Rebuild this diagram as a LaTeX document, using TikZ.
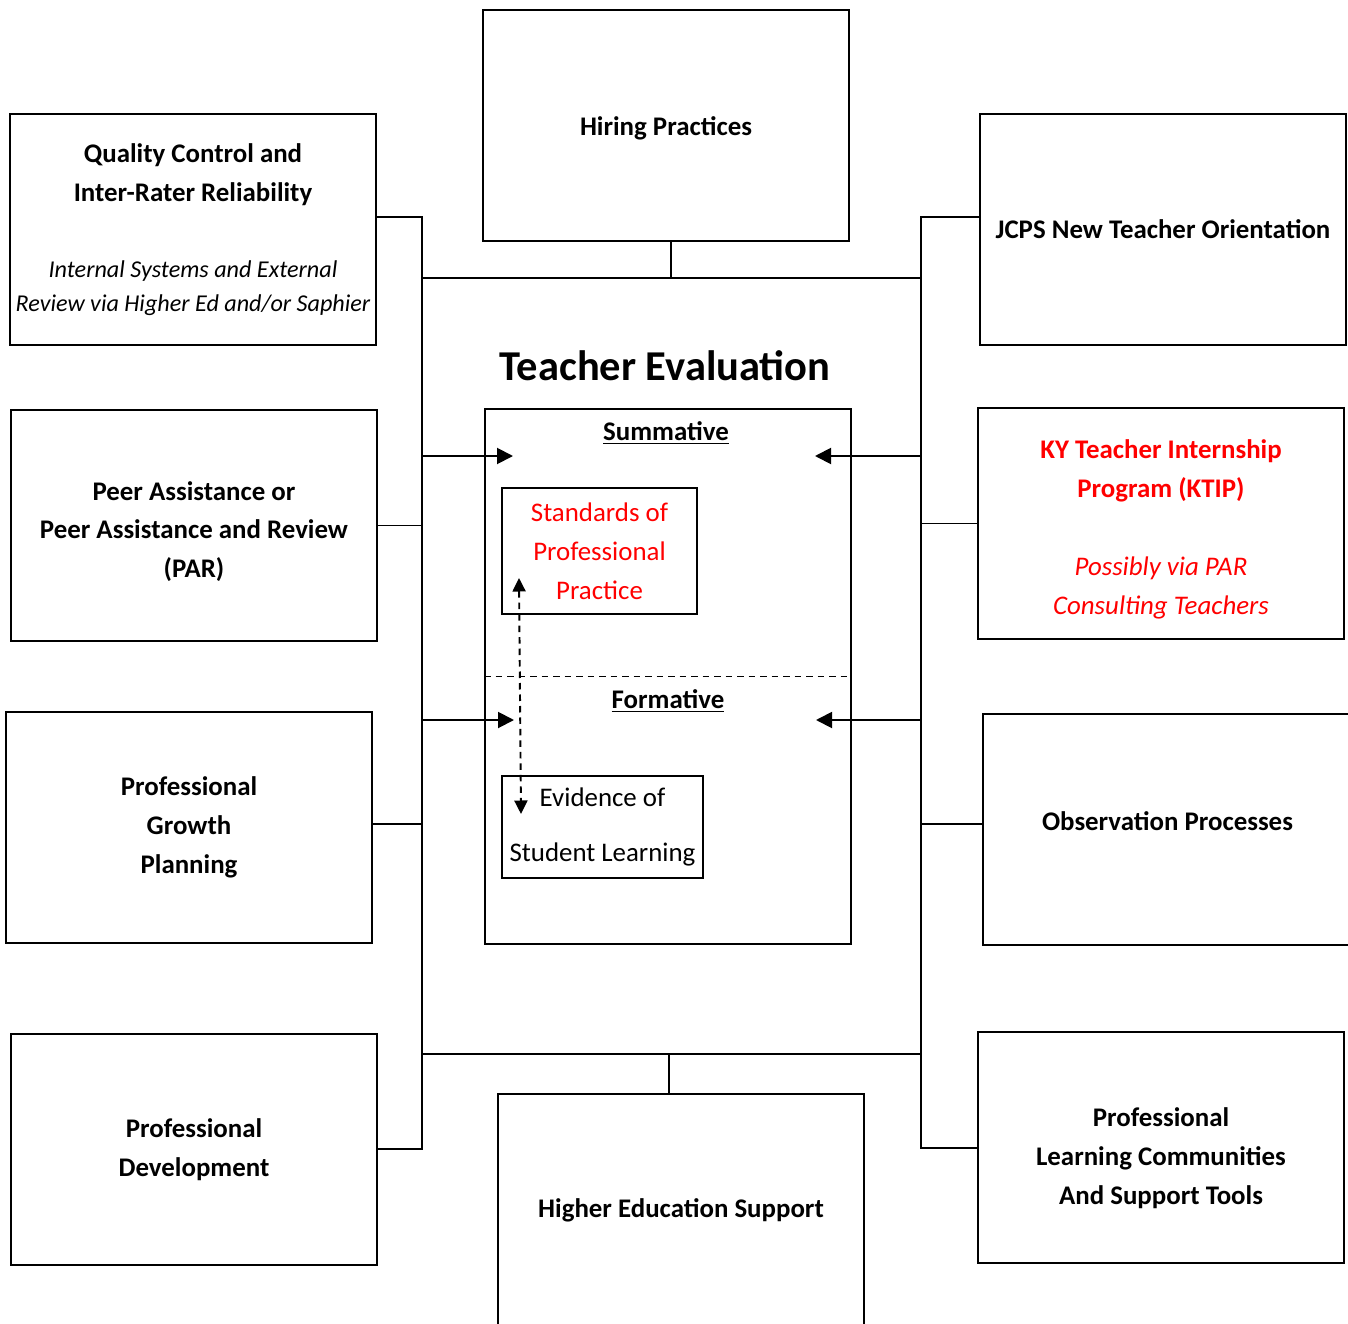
\documentclass[tikz,border=0pt]{standalone}
\usepackage{fontspec}
\setmainfont{Carlito}
\usetikzlibrary{arrows.meta}

\newcommand{\subfont}{\mdseries\itshape\fontsize{13.75}{19.3}\selectfont}
\newcommand{\pushdown}[2]{\raisebox{0pt}[\dimexpr\height+#1\relax]{#2}}
\newcommand{\pushup}[2]{\raisebox{0pt}[\height][\dimexpr\depth+#1\relax]{#2}}

\begin{document}
\begin{tikzpicture}[x=0.02cm, y=-0.02cm,
    box/.style={draw, line width=1.1pt, minimum width=7.32cm, minimum height=4.62cm,
        inner sep=0pt, align=center, font=\fontsize{15.3}{22.1}\selectfont\bfseries},
    smallbox/.style={draw, line width=1.1pt, inner sep=0pt, align=center,
        font=\fontsize{15.3}{22.1}\selectfont},
    link/.style={line width=1.1pt},
    arr/.style={line width=1.1pt, -{Triangle[length=0.32cm, width=0.32cm]}},
    darr/.style={line width=1.1pt, dash pattern=on 0.13cm off 0.1cm,
        {Triangle[length=0.27cm, width=0.26cm]}-{Triangle[length=0.27cm, width=0.26cm]}}]
    \useasboundingbox (0,0) rectangle (1348,1324);

    % Outer boxes
    \node[box] (hiring) at (666,125.5) {\pushdown{3.4pt}{Hiring Practices}};
    \node[box] (qc) at (193,229.5) {Quality Control and\\Inter-Rater Reliability\\[21pt]
        {\subfont Internal Systems and External}\\[-2.8pt]
        {\subfont Review via Higher Ed and/or Saphier}};
    \node[box] (jcps) at (1163,229.5) {JCPS New Teacher Orientation};
    \node[box] (peer) at (194,525.5) {\pushdown{6.8pt}{Peer Assistance or}\\Peer Assistance and Review\\(PAR)};
    \node[box, text=red] (ktip) at (1161,523.5) {\pushdown{6.8pt}{KY Teacher Internship}\\Program (KTIP)\\[22.1pt]
        {\mdseries\itshape Possibly via PAR}\\{\mdseries\itshape Consulting Teachers}};
    \node[box] (pgp) at (189,827.5) {Professional\\Growth\\Planning};
    \node[box, minimum width=7.37cm] (obs) at (1167.5,829.5) {\pushup{9pt}{Observation Processes}};
    \node[box] (pd) at (194,1149.5) {Professional\\Development};
    \node[box, minimum height=4.66cm] (hes) at (681,1210.5) {Higher Education Support};
    \node[box] (plc) at (1161,1147.5) {\pushdown{12.5pt}{Professional}\\Learning Communities\\And Support Tools};

    % Teacher evaluation
    \node[font=\fontsize{24.2}{28}\selectfont\bfseries] (title) at (665,366) {Teacher Evaluation};
    \node[draw, line width=1.1pt, minimum width=7.32cm, minimum height=10.7cm] (eval) at (668,676.5) {};
    \draw[line width=1.1pt, dash pattern=on 0.13cm off 0.1cm] (eval.west) -- (eval.east);
    \node[font=\fontsize{15.3}{22.1}\selectfont\bfseries] (summ) at (666,433) {\underline{Summative}};
    \node[font=\fontsize{15.3}{22.1}\selectfont\bfseries] (form) at (668,701) {\underline{Formative}};
    \node[smallbox, text=red, minimum width=3.9cm, minimum height=2.52cm] (std) at (599.5,551)
        {Standards of\\Professional\\Practice};
    \node[smallbox, minimum width=4.02cm, minimum height=2.04cm] (evid) at (602.5,827)
        {Evidence of\\[9.1pt]Student Learning};

    % Spine coordinates
    \coordinate (lt) at (422,217);
    \coordinate (lb) at (422,1149);
    \coordinate (rt) at (921,217);
    \coordinate (rb) at (921,1148);
    \coordinate (tl) at (422,278);
    \coordinate (tr) at (921,278);
    \coordinate (ts) at (671,278);
    \coordinate (bl) at (422,1054);
    \coordinate (br) at (921,1054);
    \coordinate (bs) at (669,1054);
    \coordinate (lg) at (422,824);
    \coordinate (rg) at (921,824);

    % Connectors
    \draw[link] (qc.east |- lt) -- (lt) -- (lb) -- (pd.east |- lb);
    \draw[link] (jcps.west |- rt) -- (rt) -- (rb) -- (plc.west |- rb);
    \draw[link] (tl) -- (tr);
    \draw[link] (ts) -- (ts |- hiring.south);
    \draw[link] (bl) -- (br);
    \draw[link] (bs) -- (bs |- hes.north);
    \draw[link] (peer.east) -- (peer.east -| lt);
    \draw[link] (lg -| pgp.east) -- (lg);
    \draw[link] (ktip.west) -- (ktip.west -| rt);
    \draw[link] (rg) -- (rg -| obs.west);

    % Arrows into the evaluation box
    \coordinate (sumL) at (513,456);
    \coordinate (sumR) at (815,456);
    \coordinate (forL) at (514,720);
    \coordinate (forR) at (816,720);
    \draw[arr] (sumL -| lt) -- (sumL);
    \draw[arr] (sumR -| rt) -- (sumR);
    \draw[arr] (forL -| lt) -- (forL);
    \draw[arr] (forR -| rt) -- (forR);

    % Link between standards and evidence
    \coordinate (dtop) at (519,578);
    \coordinate (dbot) at (521,814);
    \draw[darr] (dtop) -- (dbot);
\end{tikzpicture}
\end{document}
